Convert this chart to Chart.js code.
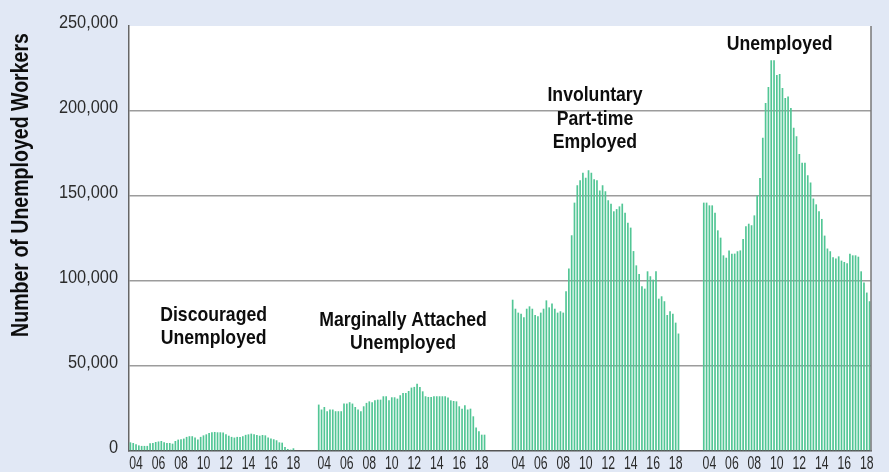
<!DOCTYPE html>
<html>
<head>
<meta charset="utf-8">
<script src="https://cdn.jsdelivr.net/npm/chart.js@4"></script>
<style>
  html, body { margin: 0; padding: 0; background: #e1e8f5; }
  #wrap { width: 889px; height: 472px; position: relative; }
</style>
</head>
<body>
<div id="wrap"><canvas id="c" width="889" height="472"></canvas></div>
<script>
// ---------- DATA ----------
const years = [2004,2005,2006,2007,2008,2009,2010,2011,2012,2013,2014,2015,2016,2017,2018];
const quarters = ['Q1','Q2','Q3','Q4'];
const groupNames = ['Discouraged Unemployed','Marginally Attached Unemployed','Involuntary Part-time Employed','Unemployed'];
const gapSlots = [7, 9, 8];
const yTicks = [0, 50000, 100000, 150000, 200000, 250000];
const yTitle = 'Number of Unemployed Workers';

const discouraged = [
  5100,4700,4000,3300, 3000,3000,3000,4600, 4700,5300,5600,5900, 5100,4700,4700,4300,
  5900,6700,6900,7300, 8300,8700,8700,7900, 6700,8300,9200,9800, 10600,11000,11200,11000,
  11000,10900,9800,9000, 8300,7900,8300,8300, 8700,9500,9800,10200, 9800,9400,9000,9400,
  9200,7900,7300,6900, 6300,5100,4900,2400, 1200,800,1600,null
];
const marginal = [
  27300,24400,25900,23400, 24400,24400,23400,23400, 23400,27900,27900,28700, 27900,25900,24400,23400,
  26300,28300,29200,28700, 29800,30200,30200,32200, 32200,29800,31600,31600, 30800,32800,34100,34100,
  35300,37300,37700,39600, 37700,35100,32200,31800, 31800,32200,32200,32200, 32200,32200,31400,29800,
  29400,29200,26300,24900, 26900,24400,24900,20400, 13800,11600,9600,9600
];
const involuntary = [
  89000,83700,81400,80800, 78700,83700,85100,83700, 80000,79200,81400,83700, 88600,84500,86700,83700,
  81400,82200,81400,93900, 107300,126900,146100,156300, 159200,163700,160800,165100, 163700,159800,159200,153300,
  156300,152800,147500,145500, 141000,142300,143900,145500, 140200,134300,131400,117600, 109200,104100,96900,95500,
  105700,102800,100800,105700, 89600,91000,88100,80000, 82200,80800,75500,69100
];
const unemployed = [
  146100,146100,144500,144500, 140200,129800,125500,115100, 113700,118000,116100,116100, 117500,118000,124700,132200,
  133700,132800,138600,150400, 160600,184300,204700,214100, 229800,229800,221200,221800, 213500,207600,208600,201800,
  190200,185100,174700,169600, 169600,162200,157900,148500, 145100,141000,136500,126700, 119100,117500,113900,113200,
  114500,112000,111200,110400, 116100,115100,115100,114300, 105700,99100,93200,88100
];

// annotation text (group index, relative bar position, value of first line)
const annotations = [
  { group: 0, at: 29.6, value: 80000,  lines: ['Discouraged','Unemployed'] },
  { group: 1, at: 30.0, value: 77000,  lines: ['Marginally Attached','Unemployed'] },
  { group: 2, at: 29.3, value: 209000, lines: ['Involuntary','Part-time','Employed'] },
  { group: 3, at: 27.0, value: 239000, lines: ['Unemployed'] }
];

// ---------- BUILD ----------
const seriesList = [discouraged, marginal, involuntary, unemployed];
const labels = [];
const values = [];
const groupStart = [];
seriesList.forEach((s, g) => {
  groupStart.push(labels.length);
  let i = 0;
  years.forEach(y => quarters.forEach(q => {
    labels.push(y + ' ' + q);
    values.push(s[i++]);
  }));
  if (g < gapSlots.length) {
    for (let k = 0; k < gapSlots[g]; k++) { labels.push(''); values.push(null); }
  }
});

function xTickText(i) {
  const l = labels[i];
  if (!l) return '';
  const [y, q] = l.split(' ');
  return (q === 'Q3' && (+y) % 2 === 0) ? y.slice(2) : '';
}

const FONT = '"Liberation Sans", Arial, sans-serif';

function narrowText(ctx, text, x, y, sx, align) {
  ctx.save();
  ctx.translate(x, y);
  ctx.scale(sx, 1);
  ctx.textAlign = align;
  ctx.fillText(text, 0, 0);
  ctx.restore();
}

const bgPlugin = {
  id: 'bg',
  beforeDraw(chart) {
    const { ctx, chartArea: a } = chart;
    ctx.save();
    ctx.fillStyle = '#e1e8f5';
    ctx.fillRect(0, 0, chart.width, chart.height);
    ctx.fillStyle = '#ffffff';
    ctx.fillRect(a.left, a.top, a.right - a.left, a.bottom - a.top);
    ctx.restore();
  },
  afterDraw(chart) {
    const { ctx, chartArea: a, scales } = chart;
    ctx.save();
    // right frame line
    ctx.strokeStyle = '#777';
    ctx.lineWidth = 1.5;
    ctx.beginPath();
    ctx.moveTo(a.right, a.top);
    ctx.lineTo(a.right, a.bottom);
    ctx.stroke();

    ctx.textBaseline = 'middle';
    // y tick labels
    ctx.fillStyle = '#2b2b2b';
    ctx.font = '19px ' + FONT;
    yTicks.forEach(v => {
      narrowText(ctx, v.toLocaleString('en-US'), a.left - 11, scales.y.getPixelForValue(v) - 3, 0.86, 'right');
    });
    // x tick labels
    ctx.font = '18px ' + FONT;
    labels.forEach((l, i) => {
      const t = xTickText(i);
      if (t) narrowText(ctx, t, scales.x.getPixelForValue(i), a.bottom + 13, 0.68, 'center');
    });
    // annotations
    ctx.fillStyle = '#0d0d0d';
    ctx.font = 'bold 21px ' + FONT;
    annotations.forEach(an => {
      const x = scales.x.getPixelForValue(groupStart[an.group] + an.at);
      const y0 = scales.y.getPixelForValue(an.value);
      an.lines.forEach((t, i) => narrowText(ctx, t, x, y0 + i * 23.5, 0.84, 'center'));
    });
    // y-axis title
    ctx.translate(22, 185);
    ctx.rotate(-Math.PI / 2);
    ctx.font = 'bold 23px ' + FONT;
    narrowText(ctx, yTitle, 0, 0, 0.85, 'center');
    ctx.restore();
  }
};

new Chart(document.getElementById('c'), {
  type: 'bar',
  data: {
    labels: labels,
    datasets: [{
      label: 'Workers',
      data: values,
      backgroundColor: '#52c695',
      borderWidth: 0,
      barPercentage: 0.6,
      categoryPercentage: 1.0
    }]
  },
  options: {
    responsive: false,
    animation: false,
    devicePixelRatio: 1,
    layout: { padding: { top: 26, right: 18, left: 0, bottom: 0 } },
    plugins: { legend: { display: false }, tooltip: { enabled: false } },
    scales: {
      x: {
        grid: { display: false },
        border: { display: true, color: '#555', width: 1.5 },
        ticks: { display: false, autoSkip: false },
        afterFit(s) { s.height = 21; }
      },
      y: {
        min: 0, max: 250000,
        z: 1,
        afterBuildTicks(s) { s.ticks = yTicks.map(v => ({ value: v })); },
        grid: {
          color: ctx => (ctx.tick && (ctx.tick.value === 0 || ctx.tick.value === 250000)) ? 'rgba(0,0,0,0)' : '#9c9c9c',
          lineWidth: 1.6,
          drawTicks: false
        },
        border: { display: true, color: '#666', width: 1.5 },
        ticks: { display: false },
        afterFit(s) { s.width = 129; }
      }
    }
  },
  plugins: [bgPlugin]
});
</script>
</body>
</html>
